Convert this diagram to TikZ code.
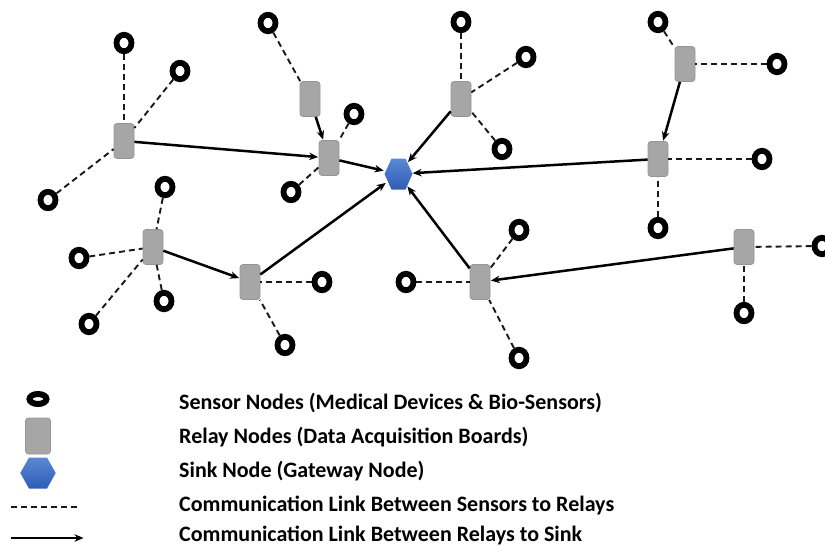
\documentclass[tikz,border=0pt]{standalone}
\usepackage{fontspec}
\setmainfont{Carlito}
\usetikzlibrary{shapes.geometric,arrows.meta}
\definecolor{relaygray}{HTML}{A6A6A6}
\definecolor{relayedge}{HTML}{959595}
\definecolor{sinktop}{HTML}{5A88D4}
\definecolor{sinkbot}{HTML}{2D5DB6}
\tikzset{
  sensor/.style={ellipse,draw=black,line width=5.8pt,minimum width=15pt,minimum height=16.5pt,inner sep=0pt},
  relay/.style={rectangle,rounded corners=3pt,fill=relaygray,draw=relayedge,line width=0.7pt,minimum width=20pt,minimum height=35pt,inner sep=0pt},
  sinkshape/.style={ellipse,minimum width=28pt,minimum height=31pt,inner sep=0pt},
  link/.style={dash pattern=on 6pt off 4pt,line width=1.9pt,black!90},
  toSink/.style={-{Stealth[length=9pt,width=7.5pt]},line width=2.5pt,black,shorten >=0.5pt},
  legtext/.style={anchor=base west,font=\bfseries\fontsize{22}{26}\selectfont,inner sep=0pt}
}
\begin{document}
\begin{tikzpicture}[x=1pt,y=-1pt]
\useasboundingbox (0,0) rectangle (825,546);
% sink
\node[sinkshape] (sink) at (398,174) {};
\shade[top color=sinktop,bottom color=sinkbot] (384.5,174) -- (391.5,158.5) -- (405.5,158.5) -- (412.5,174) -- (405.5,189.5) -- (391.5,189.5) -- cycle;
% relays
\node[relay] (r1) at (124,141) {};
\node[relay] (r2) at (310,99) {};
\node[relay] (r3) at (329,158) {};
\node[relay] (r4) at (461,99) {};
\node[relay] (r5) at (685,64) {};
\node[relay] (r6) at (658,159) {};
\node[relay] (r7) at (153,247) {};
\node[relay] (r8) at (250,282) {};
\node[relay] (r9) at (480,282) {};
\node[relay] (r10) at (744,247) {};
% sensors
\node[sensor] (s1) at (124,43) {};
\node[sensor] (s2) at (180,71) {};
\node[sensor] (s3) at (268,23) {};
\node[sensor] (s4) at (354,114) {};
\node[sensor] (s5) at (291,192) {};
\node[sensor] (s6) at (48,200) {};
\node[sensor] (s7) at (165,187) {};
\node[sensor] (s8) at (461,22) {};
\node[sensor] (s9) at (526,57) {};
\node[sensor] (s10) at (502,149) {};
\node[sensor] (s11) at (658,22) {};
\node[sensor] (s12) at (777,64) {};
\node[sensor] (s13) at (762,159) {};
\node[sensor] (s14) at (79,258) {};
\node[sensor] (s15) at (164,301) {};
\node[sensor] (s16) at (89,324) {};
\node[sensor] (s17) at (322,282) {};
\node[sensor] (s18) at (285,345) {};
\node[sensor] (s19) at (406,282) {};
\node[sensor] (s20) at (658,228) {};
\node[sensor] (s21) at (519,230) {};
\node[sensor] (s22) at (519,358) {};
\node[sensor] (s23) at (822,246) {};
\node[sensor] (s24) at (744,313) {};
% sensor-relay links
\draw[link] (s1) -- (r1);
\draw[link] (s2) -- (r1);
\draw[link] (s6) -- (r1);
\draw[link] (s3) -- (r2);
\draw[link] (s4) -- (r3);
\draw[link] (s5) -- (r3);
\draw[link] (s8) -- (r4);
\draw[link] (s9) -- (r4);
\draw[link] (s10) -- (r4);
\draw[link] (s11) -- (r5);
\draw[link] (s12) -- (r5);
\draw[link] (s13) -- (r6);
\draw[link] (s20) -- (r6);
\draw[link] (s7) -- (r7);
\draw[link] (s14) -- (r7);
\draw[link] (s15) -- (r7);
\draw[link] (s16) -- (r7);
\draw[link] (s17) -- (r8);
\draw[link] (s18) -- (r8);
\draw[link] (s19) -- (r9);
\draw[link] (s21) -- (r9);
\draw[link] (s22) -- (r9);
\draw[link] (s23) -- (r10);
\draw[link] (s24) -- (r10);
% relay links
\draw[toSink] (r1) -- (r3);
\draw[toSink] (r2) -- (r3);
\draw[toSink] (r3) -- (sink);
\draw[toSink] (r4) -- (sink);
\draw[toSink] (r5) -- (r6);
\draw[toSink] (r6) -- (sink);
\draw[toSink] (r7) -- (r8);
\draw[toSink] (r8) -- (sink);
\draw[toSink] (r9) -- (sink);
\draw[toSink] (r10) -- (r9);
% legend
\node[sensor,line width=6pt,minimum width=17pt,minimum height=10pt] (lsensor) at (38,399) {};
\node[relay,minimum width=25pt,minimum height=36pt] (lrelay) at (38,436) {};
\node[minimum width=35pt,minimum height=31pt,inner sep=0pt] (lsink) at (38,473) {};
\shade[top color=sinktop,bottom color=sinkbot] (lsink.west) -- (29,457.5) -- (47,457.5) -- (lsink.east) -- (47,488.5) -- (29,488.5) -- cycle;
\coordinate (ldash1) at (11,507);
\coordinate (ldash2) at (80,507);
\draw[link,line width=1.4pt] (ldash1) -- (ldash2);
\coordinate (larr1) at (11,538);
\coordinate (larr2) at (84,538);
\draw[toSink] (larr1) -- (larr2);
\node[legtext] (t1) at (179,409) {Sensor Nodes (Medical Devices \& Bio-Sensors)};
\node[legtext] (t2) at (179,443) {Relay Nodes (Data Acquisition Boards)};
\node[legtext] (t3) at (179,477) {Sink Node (Gateway Node)};
\node[legtext] (t4) at (179,511) {Communication Link Between Sensors to Relays};
\node[legtext] (t5) at (179,541) {Communication Link Between Relays to Sink};
\end{tikzpicture}
\end{document}
